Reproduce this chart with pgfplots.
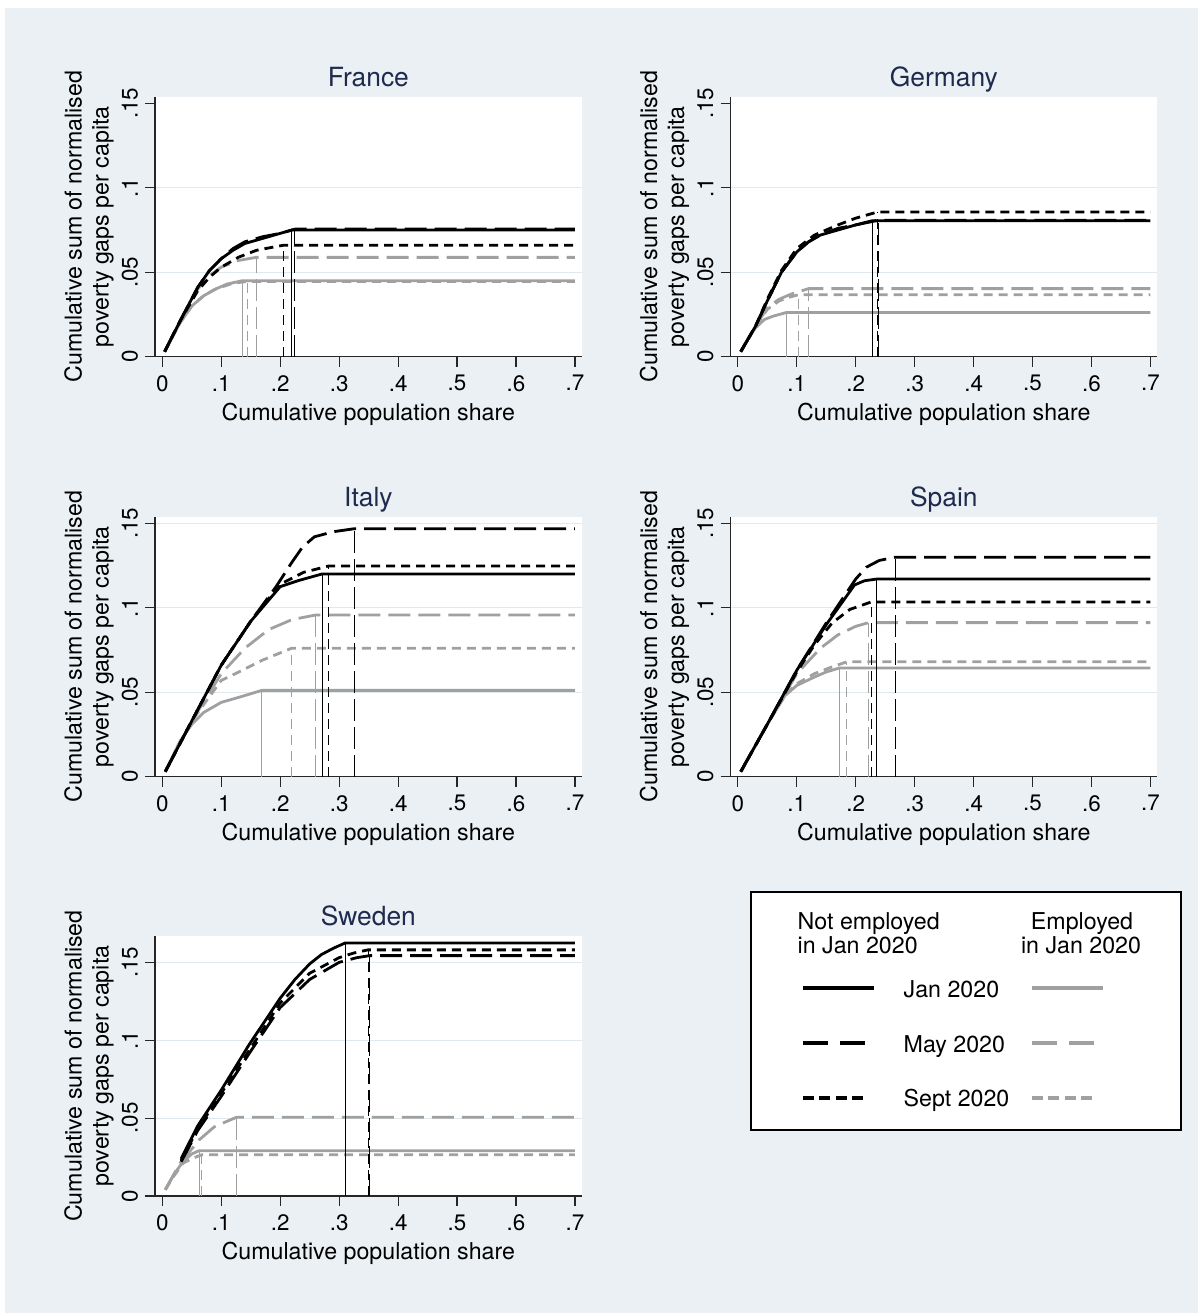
\documentclass[border=0pt]{standalone}
\usepackage{pgfplots}
\pgfplotsset{compat=1.18}
\usepackage{fontspec}
\setmainfont{TeX Gyre Heros}
\definecolor{bgc}{RGB}{234,240,243}
\definecolor{gridc}{RGB}{224,233,237}
\definecolor{titc}{RGB}{30,42,78}
\definecolor{gr}{RGB}{160,160,160}
\pgfplotsset{
  panel/.style={
    scale only axis, width=213.35pt, height=130pt,
    xmin=-0.0124, xmax=0.7114, ymin=0,
    axis lines*=left,
    axis line style={black!85, line width=0.6pt},
    every tick/.style={black!85, line width=0.6pt},
    tick align=outside, major tick length=5pt,
    xtick={0,0.1,0.2,0.3,0.4,0.5,0.6,0.7},
    xticklabels={0,.1,.2,.3,.4,.5,.6,.7},
    yticklabel style={rotate=90, anchor=south},
    xticklabel style={yshift=-0.8pt},
    tick label style={font=\fontsize{11.2}{13}\selectfont, black},
    label style={font=\fontsize{11.6}{13.5}\selectfont},
    grid style={gridc, line width=0.6pt},
    axis background/.style={fill=white},
    title style={font=\fontsize{13.2}{15}\selectfont, color=titc, at={(axis description cs:0.5,1.037)}, anchor=base, yshift=-5.5pt},
    xlabel={Cumulative population share},
    ylabel={Cumulative sum of normalised\\poverty gaps per capita},
    ylabel style={align=center, at={(axis description cs:-0.1547,0.5)}, anchor=center},
    xlabel style={at={(axis description cs:0.5,-0.2435)}, anchor=base},
  },
  gridA/.style={ymax=0.1539, ytick={0.05,0.1}, yticklabels={.05,.1}, ymajorgrids,
    extra y ticks={0,0.15}, extra y tick labels={0,.15}, extra y tick style={grid=none}},
  gridB/.style={ymax=0.1539, ytick={0,0.05,0.1,0.15}, yticklabels={0,.05,.1,.15}, ymajorgrids},
  bj/.style={black, line width=1.4pt, solid, line join=round},
  bm/.style={black, line width=1.4pt, dash pattern=on 11pt off 4pt, line join=round},
  bs/.style={black, line width=1.4pt, dash pattern=on 4.5pt off 3pt, line join=round},
  gj/.style={gr, line width=1.4pt, solid, line join=round},
  gm/.style={gr, line width=1.4pt, dash pattern=on 11pt off 4pt, line join=round},
  gs/.style={gr, line width=1.4pt, dash pattern=on 4.5pt off 3pt, line join=round},
  vbj/.style={black, line width=0.5pt, solid},
  vbm/.style={black, line width=0.5pt, dash pattern=on 11pt off 3pt},
  vbs/.style={black, line width=0.5pt, dash pattern=on 5pt off 3pt},
  vgj/.style={gr, line width=0.5pt, solid},
  vgm/.style={gr, line width=0.5pt, dash pattern=on 11pt off 3pt},
  vgs/.style={gr, line width=0.5pt, dash pattern=on 5pt off 3pt},
}
\begin{document}
\begin{tikzpicture}
\fill[white] (0,0) rectangle (601.5pt,656.5pt);
\fill[bgc] (2.5pt,0) rectangle (599pt,652.5pt);

% ---------------- France
\begin{axis}[panel, gridA, at={(77.5pt,478.15pt)}, anchor=south west, title={France}]
\addplot[gj] coordinates {(0.004,0.003) (0.03,0.02) (0.05,0.03) (0.07,0.036) (0.09,0.040) (0.11,0.043) (0.136,0.045) (0.7,0.045)};
\addplot[gs] coordinates {(0.004,0.003) (0.03,0.02) (0.05,0.03) (0.07,0.036) (0.09,0.040) (0.12,0.0435) (0.144,0.0445) (0.7,0.0445)};
\addplot[gm] coordinates {(0.004,0.003) (0.03,0.021) (0.06,0.040) (0.08,0.048) (0.1,0.053) (0.13,0.057) (0.159,0.0588) (0.7,0.0588)};
\addplot[bs] coordinates {(0.004,0.003) (0.03,0.021) (0.06,0.039) (0.08,0.047) (0.1,0.053) (0.13,0.059) (0.16,0.063) (0.19,0.065) (0.206,0.066) (0.7,0.066)};
\addplot[bj] coordinates {(0.004,0.003) (0.03,0.021) (0.06,0.041) (0.08,0.051) (0.1,0.058) (0.12,0.063) (0.14,0.067) (0.17,0.070) (0.2,0.073) (0.22,0.075) (0.7,0.075)};
\addplot[bm] coordinates {(0.004,0.003) (0.03,0.021) (0.06,0.041) (0.08,0.051) (0.1,0.058) (0.12,0.064) (0.14,0.068) (0.17,0.071) (0.2,0.073) (0.225,0.0755) (0.7,0.0755)};
\addplot[vgj] coordinates {(0.136,0) (0.136,0.045)};
\addplot[vgs] coordinates {(0.144,0) (0.144,0.0445)};
\addplot[vgm] coordinates {(0.159,0) (0.159,0.0588)};
\addplot[vbs] coordinates {(0.206,0) (0.206,0.066)};
\addplot[vbj] coordinates {(0.219,0) (0.219,0.075)};
\addplot[vbm] coordinates {(0.225,0) (0.225,0.0755)};
\end{axis}

% ---------------- Germany
\begin{axis}[panel, gridA, at={(365.25pt,478.15pt)}, anchor=south west, title={Germany}]
\addplot[gj] coordinates {(0.005,0.003) (0.02,0.012) (0.03,0.017) (0.045,0.022) (0.06,0.024) (0.083,0.0262) (0.7,0.0262)};
\addplot[gs] coordinates {(0.005,0.003) (0.03,0.018) (0.05,0.028) (0.07,0.033) (0.085,0.035) (0.103,0.0367) (0.7,0.0367)};
\addplot[gm] coordinates {(0.005,0.003) (0.03,0.018) (0.05,0.029) (0.07,0.034) (0.09,0.037) (0.12,0.0403) (0.7,0.0403)};
\addplot[bs] coordinates {(0.005,0.003) (0.03,0.018) (0.05,0.034) (0.074,0.051) (0.1,0.064) (0.13,0.072) (0.17,0.078) (0.2,0.082) (0.2375,0.0857) (0.7,0.0857)};
\addplot[bj] coordinates {(0.005,0.003) (0.03,0.018) (0.05,0.033) (0.074,0.050) (0.1,0.062) (0.12,0.068) (0.14,0.072) (0.17,0.075) (0.2,0.078) (0.228,0.0805) (0.7,0.0805)};
\addplot[bm] coordinates {(0.005,0.003) (0.03,0.018) (0.05,0.033) (0.074,0.050) (0.1,0.062) (0.12,0.068) (0.14,0.072) (0.17,0.076) (0.2,0.078) (0.239,0.0808) (0.7,0.0808)};
\addplot[vgj] coordinates {(0.083,0) (0.083,0.0262)};
\addplot[vgs] coordinates {(0.103,0) (0.103,0.0367)};
\addplot[vgm] coordinates {(0.12,0) (0.12,0.0403)};
\addplot[vbj] coordinates {(0.228,0) (0.228,0.0805)};
\addplot[vbs] coordinates {(0.2375,0) (0.2375,0.0857)};
\addplot[vbm] coordinates {(0.239,0) (0.239,0.0808)};
\end{axis}

% ---------------- Italy
\begin{axis}[panel, gridB, at={(77.5pt,268.15pt)}, anchor=south west, title={Italy}]
\addplot[gj] coordinates {(0.005,0.003) (0.03,0.021) (0.05,0.031) (0.07,0.038) (0.1,0.044) (0.13,0.047) (0.169,0.0511) (0.7,0.0511)};
\addplot[gs] coordinates {(0.005,0.003) (0.05,0.033) (0.1,0.057) (0.13,0.062) (0.17,0.069) (0.219,0.076) (0.7,0.076)};
\addplot[gm] coordinates {(0.005,0.003) (0.05,0.033) (0.1,0.061) (0.14,0.076) (0.18,0.087) (0.22,0.093) (0.26,0.0957) (0.7,0.0957)};
\addplot[bj] coordinates {(0.005,0.003) (0.05,0.033) (0.1,0.066) (0.15,0.092) (0.2,0.1125) (0.23,0.116) (0.271,0.12) (0.7,0.12)};
\addplot[bs] coordinates {(0.005,0.003) (0.05,0.033) (0.1,0.066) (0.15,0.092) (0.2,0.114) (0.24,0.121) (0.282,0.1247) (0.7,0.1247)};
\addplot[bm] coordinates {(0.005,0.003) (0.05,0.033) (0.1,0.066) (0.15,0.092) (0.193,0.1125) (0.22,0.127) (0.238,0.136) (0.258,0.142) (0.29,0.145) (0.326,0.1468) (0.7,0.1468)};
\addplot[vgj] coordinates {(0.169,0) (0.169,0.0511)};
\addplot[vgs] coordinates {(0.219,0) (0.219,0.076)};
\addplot[vgm] coordinates {(0.26,0) (0.26,0.0957)};
\addplot[vbj] coordinates {(0.271,0) (0.271,0.12)};
\addplot[vbs] coordinates {(0.282,0) (0.282,0.1247)};
\addplot[vbm] coordinates {(0.326,0) (0.326,0.1468)};
\end{axis}

% ---------------- Spain
\begin{axis}[panel, gridB, at={(365.25pt,268.15pt)}, anchor=south west, title={Spain}]
\addplot[gj] coordinates {(0.005,0.003) (0.05,0.031) (0.08,0.048) (0.1,0.054) (0.13,0.059) (0.15,0.062) (0.172,0.0643) (0.7,0.0643)};
\addplot[gs] coordinates {(0.005,0.003) (0.05,0.031) (0.08,0.048) (0.1,0.055) (0.13,0.061) (0.16,0.065) (0.185,0.068) (0.7,0.068)};
\addplot[gm] coordinates {(0.005,0.003) (0.05,0.031) (0.1,0.061) (0.14,0.076) (0.17,0.084) (0.2,0.089) (0.222,0.0912) (0.7,0.0912)};
\addplot[bs] coordinates {(0.005,0.003) (0.05,0.031) (0.1,0.062) (0.13,0.078) (0.16,0.091) (0.19,0.099) (0.226,0.1034) (0.7,0.1034)};
\addplot[bj] coordinates {(0.005,0.003) (0.05,0.031) (0.1,0.063) (0.15,0.090) (0.198,0.1135) (0.215,0.116) (0.236,0.117) (0.7,0.117)};
\addplot[bm] coordinates {(0.005,0.003) (0.05,0.031) (0.1,0.063) (0.15,0.091) (0.2,0.117) (0.218,0.124) (0.24,0.128) (0.267,0.1299) (0.7,0.1299)};
\addplot[vgj] coordinates {(0.172,0) (0.172,0.0643)};
\addplot[vgs] coordinates {(0.185,0) (0.185,0.068)};
\addplot[vgm] coordinates {(0.222,0) (0.222,0.0912)};
\addplot[vbs] coordinates {(0.226,0) (0.226,0.1034)};
\addplot[vbj] coordinates {(0.236,0) (0.236,0.117)};
\addplot[vbm] coordinates {(0.267,0) (0.267,0.1299)};
\end{axis}

% ---------------- Sweden
\begin{axis}[panel, ymax=0.1669, ytick={0,0.05,0.1,0.15}, yticklabels={0,.05,.1,.15}, ymajorgrids,
  at={(77.5pt,58.5pt)}, anchor=south west, title={Sweden}]
\addplot[gj] coordinates {(0.005,0.004) (0.02,0.014) (0.035,0.022) (0.05,0.027) (0.0625,0.0291) (0.7,0.0291)};
\addplot[gs] coordinates {(0.005,0.004) (0.02,0.013) (0.035,0.021) (0.05,0.024) (0.067,0.0265) (0.7,0.0265)};
\addplot[gm] coordinates {(0.005,0.004) (0.03,0.021) (0.0625,0.036) (0.0885,0.0445) (0.1256,0.0505) (0.7,0.0505)};
\addplot[bj] coordinates {(0.032,0.024) (0.06,0.045) (0.1,0.068) (0.147,0.097) (0.2,0.127) (0.225,0.139) (0.25,0.149) (0.27,0.155) (0.29,0.159) (0.31,0.1624) (0.7,0.1624)};
\addplot[bs] coordinates {(0.032,0.023) (0.06,0.043) (0.1,0.066) (0.15,0.095) (0.2,0.124) (0.25,0.143) (0.3,0.153) (0.325,0.156) (0.349,0.158) (0.7,0.158)};
\addplot[bm] coordinates {(0.032,0.022) (0.06,0.042) (0.1,0.064) (0.15,0.093) (0.2,0.121) (0.25,0.139) (0.3,0.150) (0.33,0.153) (0.352,0.1543) (0.7,0.1543)};
\addplot[vgj] coordinates {(0.0625,0) (0.0625,0.0291)};
\addplot[vgs] coordinates {(0.067,0) (0.067,0.0265)};
\addplot[vgm] coordinates {(0.1256,0) (0.1256,0.0505)};
\addplot[vbj] coordinates {(0.31,0) (0.31,0.1624)};
\addplot[vbs] coordinates {(0.349,0) (0.349,0.158)};
\addplot[vbm] coordinates {(0.352,0) (0.352,0.1543)};
\end{axis}

% ---------------- Legend
\draw[black, line width=0.85pt, fill=white] (375.5pt,91.5pt) rectangle (590.5pt,210.65pt);
\begingroup
\fontsize{11.6}{13.5}\selectfont
\node[anchor=base west, inner sep=0pt] at (398.65pt,191.5pt) {Not employed};
\node[anchor=base west, inner sep=0pt] at (398.65pt,179.5pt) {in Jan 2020};
\node[anchor=base, inner sep=0pt] at (541pt,191.5pt) {Employed};
\node[anchor=base, inner sep=0pt] at (540.5pt,179.5pt) {in Jan 2020};
\node[anchor=base west, inner sep=0pt] at (451.65pt,157.5pt) {Jan 2020};
\node[anchor=base west, inner sep=0pt] at (451.65pt,130pt) {May 2020};
\node[anchor=base west, inner sep=0pt] at (451.65pt,103pt) {Sept 2020};
\endgroup
\draw[black, line width=2.2pt] (401.65pt,162.35pt) -- (437.15pt,162.35pt);
\draw[gr, line width=2.2pt] (516pt,162.35pt) -- (551.5pt,162.35pt);
\draw[black, line width=2.2pt, dash pattern=on 12.5pt off 6pt] (401.5pt,134.85pt) -- (432.5pt,134.85pt);
\draw[gr, line width=2.2pt, dash pattern=on 12.5pt off 6pt] (516pt,134.85pt) -- (547pt,134.85pt);
\draw[black, line width=2.2pt, dash pattern=on 5.5pt off 2.7pt] (401.5pt,107.35pt) -- (433.5pt,107.35pt);
\draw[gr, line width=2.2pt, dash pattern=on 5.5pt off 2.7pt] (516pt,107.35pt) -- (548.5pt,107.35pt);

\pgfresetboundingbox
\path[use as bounding box] (0,0) rectangle (601.5pt,656.5pt);
\end{tikzpicture}
\end{document}
